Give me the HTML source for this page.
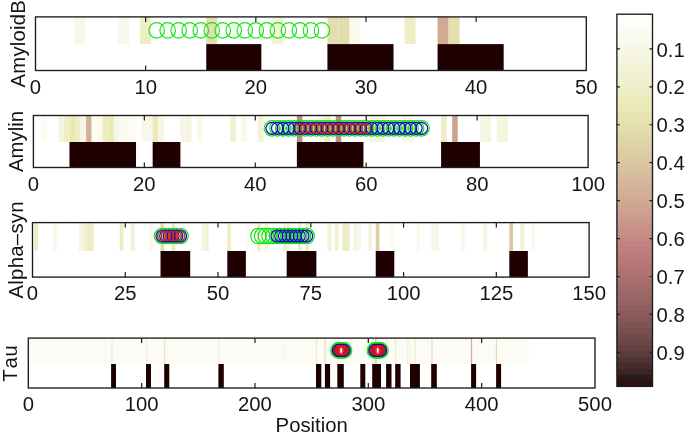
<!DOCTYPE html>
<html><head><meta charset="utf-8"><title>Figure</title>
<style>html,body{margin:0;padding:0;background:#fff;overflow:hidden}svg{display:block}</style></head>
<body>
<svg width="685" height="437" viewBox="0 0 685 437">
<rect width="685" height="437" fill="#fff"/>
<g>
<rect x="41.01" y="16.90" width="462.67" height="27.20" fill="#ffffff"/>
<rect x="74.06" y="16.90" width="11.02" height="27.20" fill="#f8f8ea"/>
<rect x="118.12" y="16.90" width="11.02" height="27.20" fill="#f8f8ea"/>
<rect x="140.15" y="16.90" width="11.02" height="27.20" fill="#ededc6"/>
<rect x="206.25" y="16.90" width="11.02" height="27.20" fill="#e4deae"/>
<rect x="272.34" y="16.90" width="11.02" height="27.20" fill="#f2f2d5"/>
<rect x="327.42" y="16.90" width="11.02" height="27.20" fill="#e4deae"/>
<rect x="338.44" y="16.90" width="11.02" height="27.20" fill="#e4deae"/>
<rect x="349.46" y="16.90" width="11.02" height="27.20" fill="#f9f9ec"/>
<rect x="404.54" y="16.90" width="11.02" height="27.20" fill="#ededc6"/>
<rect x="437.58" y="16.90" width="11.02" height="27.20" fill="#d0aa93"/>
<rect x="448.60" y="16.90" width="11.02" height="27.20" fill="#e4deae"/>
<rect x="206.25" y="44.10" width="55.08" height="26.40" fill="#1e0000"/>
<rect x="327.42" y="44.10" width="66.10" height="26.40" fill="#1e0000"/>
<rect x="437.58" y="44.10" width="66.10" height="26.40" fill="#1e0000"/>
<circle cx="156.68" cy="30.40" r="7.75" fill="none" stroke="#14e414" stroke-width="1.15"/>
<circle cx="167.69" cy="30.40" r="7.75" fill="none" stroke="#14e414" stroke-width="1.15"/>
<circle cx="178.71" cy="30.40" r="7.75" fill="none" stroke="#14e414" stroke-width="1.15"/>
<circle cx="189.72" cy="30.40" r="7.75" fill="none" stroke="#14e414" stroke-width="1.15"/>
<circle cx="200.74" cy="30.40" r="7.75" fill="none" stroke="#14e414" stroke-width="1.15"/>
<circle cx="211.76" cy="30.40" r="7.75" fill="none" stroke="#14e414" stroke-width="1.15"/>
<circle cx="222.77" cy="30.40" r="7.75" fill="none" stroke="#14e414" stroke-width="1.15"/>
<circle cx="233.79" cy="30.40" r="7.75" fill="none" stroke="#14e414" stroke-width="1.15"/>
<circle cx="244.80" cy="30.40" r="7.75" fill="none" stroke="#14e414" stroke-width="1.15"/>
<circle cx="255.82" cy="30.40" r="7.75" fill="none" stroke="#14e414" stroke-width="1.15"/>
<circle cx="266.84" cy="30.40" r="7.75" fill="none" stroke="#14e414" stroke-width="1.15"/>
<circle cx="277.85" cy="30.40" r="7.75" fill="none" stroke="#14e414" stroke-width="1.15"/>
<circle cx="288.87" cy="30.40" r="7.75" fill="none" stroke="#14e414" stroke-width="1.15"/>
<circle cx="299.88" cy="30.40" r="7.75" fill="none" stroke="#14e414" stroke-width="1.15"/>
<circle cx="310.90" cy="30.40" r="7.75" fill="none" stroke="#14e414" stroke-width="1.15"/>
<circle cx="321.92" cy="30.40" r="7.75" fill="none" stroke="#14e414" stroke-width="1.15"/>
<text x="35.50" y="93.70" text-anchor="middle" font-family="Liberation Sans, Arial, Helvetica, sans-serif" font-size="20.3" fill="#151515" style="font-kerning:none">0</text>
<path d="M145.66 16.90v5" stroke="#1c1c1c" stroke-width="1.2" fill="none"/>
<path d="M145.66 70.50v-5" stroke="#1c1c1c" stroke-width="1.2" fill="none"/>
<text x="145.66" y="93.70" text-anchor="middle" font-family="Liberation Sans, Arial, Helvetica, sans-serif" font-size="20.3" fill="#151515" style="font-kerning:none">10</text>
<path d="M255.82 16.90v5" stroke="#1c1c1c" stroke-width="1.2" fill="none"/>
<text x="255.82" y="93.70" text-anchor="middle" font-family="Liberation Sans, Arial, Helvetica, sans-serif" font-size="20.3" fill="#151515" style="font-kerning:none">20</text>
<path d="M365.98 16.90v5" stroke="#1c1c1c" stroke-width="1.2" fill="none"/>
<text x="365.98" y="93.70" text-anchor="middle" font-family="Liberation Sans, Arial, Helvetica, sans-serif" font-size="20.3" fill="#151515" style="font-kerning:none">30</text>
<path d="M476.14 16.90v5" stroke="#1c1c1c" stroke-width="1.2" fill="none"/>
<text x="476.14" y="93.70" text-anchor="middle" font-family="Liberation Sans, Arial, Helvetica, sans-serif" font-size="20.3" fill="#151515" style="font-kerning:none">40</text>
<text x="586.30" y="93.70" text-anchor="middle" font-family="Liberation Sans, Arial, Helvetica, sans-serif" font-size="20.3" fill="#151515" style="font-kerning:none">50</text>
<rect x="35.50" y="16.90" width="550.80" height="53.60" fill="none" stroke="#1c1c1c" stroke-width="1.35"/>
<text transform="translate(24.50 43.70) rotate(-90)" text-anchor="middle" letter-spacing="0.25" font-family="Liberation Sans, Arial, Helvetica, sans-serif" font-size="20.3" fill="#151515" style="font-kerning:none">AmyloidB</text>
</g>
<g>
<rect x="36.17" y="115.50" width="493.68" height="26.50" fill="#ffffff"/>
<rect x="41.72" y="115.50" width="5.55" height="26.50" fill="#fbfbf2"/>
<rect x="58.36" y="115.50" width="5.55" height="26.50" fill="#f5f5de"/>
<rect x="63.91" y="115.50" width="5.55" height="26.50" fill="#ededc6"/>
<rect x="69.46" y="115.50" width="5.55" height="26.50" fill="#e9e9b4"/>
<rect x="75.00" y="115.50" width="5.55" height="26.50" fill="#ededc6"/>
<rect x="80.55" y="115.50" width="5.55" height="26.50" fill="#f6f6e4"/>
<rect x="86.10" y="115.50" width="5.55" height="26.50" fill="#d2b096"/>
<rect x="91.64" y="115.50" width="5.55" height="26.50" fill="#fcfcf7"/>
<rect x="97.19" y="115.50" width="5.55" height="26.50" fill="#f9f9ec"/>
<rect x="102.74" y="115.50" width="5.55" height="26.50" fill="#ececbf"/>
<rect x="108.28" y="115.50" width="5.55" height="26.50" fill="#e9e9b4"/>
<rect x="113.83" y="115.50" width="5.55" height="26.50" fill="#f6f6e4"/>
<rect x="119.38" y="115.50" width="5.55" height="26.50" fill="#fbfbf2"/>
<rect x="124.93" y="115.50" width="5.55" height="26.50" fill="#fbfbf2"/>
<rect x="130.47" y="115.50" width="5.55" height="26.50" fill="#fbfbf2"/>
<rect x="141.57" y="115.50" width="5.55" height="26.50" fill="#f8f8ea"/>
<rect x="147.11" y="115.50" width="5.55" height="26.50" fill="#f8f8ea"/>
<rect x="152.66" y="115.50" width="5.55" height="26.50" fill="#eaeab8"/>
<rect x="158.21" y="115.50" width="5.55" height="26.50" fill="#f6f6e4"/>
<rect x="180.40" y="115.50" width="5.55" height="26.50" fill="#f6f6e4"/>
<rect x="185.94" y="115.50" width="5.55" height="26.50" fill="#f5f5de"/>
<rect x="197.04" y="115.50" width="5.55" height="26.50" fill="#f9f9ec"/>
<rect x="230.32" y="115.50" width="5.55" height="26.50" fill="#f0f0cf"/>
<rect x="241.41" y="115.50" width="5.55" height="26.50" fill="#f9f9ec"/>
<rect x="258.05" y="115.50" width="5.55" height="26.50" fill="#f2f2d5"/>
<rect x="296.88" y="115.50" width="5.55" height="26.50" fill="#c68984"/>
<rect x="319.07" y="115.50" width="5.55" height="26.50" fill="#f6f6e4"/>
<rect x="324.62" y="115.50" width="5.55" height="26.50" fill="#ededc6"/>
<rect x="335.71" y="115.50" width="5.55" height="26.50" fill="#c68984"/>
<rect x="368.99" y="115.50" width="5.55" height="26.50" fill="#f6f6e4"/>
<rect x="374.54" y="115.50" width="5.55" height="26.50" fill="#f5f5de"/>
<rect x="380.09" y="115.50" width="5.55" height="26.50" fill="#f6f6e4"/>
<rect x="402.28" y="115.50" width="5.55" height="26.50" fill="#f6f6e4"/>
<rect x="407.82" y="115.50" width="5.55" height="26.50" fill="#f8f8ea"/>
<rect x="441.10" y="115.50" width="5.55" height="26.50" fill="#ededc6"/>
<rect x="452.20" y="115.50" width="5.55" height="26.50" fill="#cea490"/>
<rect x="479.93" y="115.50" width="5.55" height="26.50" fill="#f6f6e4"/>
<rect x="485.48" y="115.50" width="5.55" height="26.50" fill="#f5f5de"/>
<rect x="496.57" y="115.50" width="5.55" height="26.50" fill="#f5f5de"/>
<rect x="502.12" y="115.50" width="5.55" height="26.50" fill="#f5f5de"/>
<rect x="69.46" y="142.00" width="66.56" height="25.50" fill="#1e0000"/>
<rect x="152.66" y="142.00" width="27.74" height="25.50" fill="#1e0000"/>
<rect x="296.88" y="142.00" width="66.56" height="25.50" fill="#1e0000"/>
<rect x="441.10" y="142.00" width="38.83" height="25.50" fill="#1e0000"/>
<circle cx="271.92" cy="128.30" r="7.75" fill="none" stroke="#14e414" stroke-width="1.15"/>
<circle cx="277.47" cy="128.30" r="7.75" fill="none" stroke="#14e414" stroke-width="1.15"/>
<circle cx="283.02" cy="128.30" r="7.75" fill="none" stroke="#14e414" stroke-width="1.15"/>
<circle cx="288.56" cy="128.30" r="7.75" fill="none" stroke="#14e414" stroke-width="1.15"/>
<circle cx="294.11" cy="128.30" r="7.75" fill="none" stroke="#14e414" stroke-width="1.15"/>
<circle cx="299.66" cy="128.30" r="7.75" fill="none" stroke="#14e414" stroke-width="1.15"/>
<circle cx="305.20" cy="128.30" r="7.75" fill="none" stroke="#14e414" stroke-width="1.15"/>
<circle cx="310.75" cy="128.30" r="7.75" fill="none" stroke="#14e414" stroke-width="1.15"/>
<circle cx="316.30" cy="128.30" r="7.75" fill="none" stroke="#14e414" stroke-width="1.15"/>
<circle cx="321.84" cy="128.30" r="7.75" fill="none" stroke="#14e414" stroke-width="1.15"/>
<circle cx="327.39" cy="128.30" r="7.75" fill="none" stroke="#14e414" stroke-width="1.15"/>
<circle cx="332.94" cy="128.30" r="7.75" fill="none" stroke="#14e414" stroke-width="1.15"/>
<circle cx="338.49" cy="128.30" r="7.75" fill="none" stroke="#14e414" stroke-width="1.15"/>
<circle cx="344.03" cy="128.30" r="7.75" fill="none" stroke="#14e414" stroke-width="1.15"/>
<circle cx="349.58" cy="128.30" r="7.75" fill="none" stroke="#14e414" stroke-width="1.15"/>
<circle cx="355.13" cy="128.30" r="7.75" fill="none" stroke="#14e414" stroke-width="1.15"/>
<circle cx="360.67" cy="128.30" r="7.75" fill="none" stroke="#14e414" stroke-width="1.15"/>
<circle cx="366.22" cy="128.30" r="7.75" fill="none" stroke="#14e414" stroke-width="1.15"/>
<circle cx="371.77" cy="128.30" r="7.75" fill="none" stroke="#14e414" stroke-width="1.15"/>
<circle cx="377.31" cy="128.30" r="7.75" fill="none" stroke="#14e414" stroke-width="1.15"/>
<circle cx="382.86" cy="128.30" r="7.75" fill="none" stroke="#14e414" stroke-width="1.15"/>
<circle cx="388.41" cy="128.30" r="7.75" fill="none" stroke="#14e414" stroke-width="1.15"/>
<circle cx="393.96" cy="128.30" r="7.75" fill="none" stroke="#14e414" stroke-width="1.15"/>
<circle cx="399.50" cy="128.30" r="7.75" fill="none" stroke="#14e414" stroke-width="1.15"/>
<circle cx="405.05" cy="128.30" r="7.75" fill="none" stroke="#14e414" stroke-width="1.15"/>
<circle cx="410.60" cy="128.30" r="7.75" fill="none" stroke="#14e414" stroke-width="1.15"/>
<circle cx="416.14" cy="128.30" r="7.75" fill="none" stroke="#14e414" stroke-width="1.15"/>
<circle cx="421.69" cy="128.30" r="7.75" fill="none" stroke="#14e414" stroke-width="1.15"/>
<circle cx="271.92" cy="128.30" r="6.0" fill="none" stroke="#0c0cb8" stroke-width="1.2"/>
<circle cx="277.47" cy="128.30" r="6.0" fill="none" stroke="#0c0cb8" stroke-width="1.2"/>
<circle cx="283.02" cy="128.30" r="6.0" fill="none" stroke="#0c0cb8" stroke-width="1.2"/>
<circle cx="288.56" cy="128.30" r="6.0" fill="none" stroke="#0c0cb8" stroke-width="1.2"/>
<circle cx="294.11" cy="128.30" r="6.0" fill="none" stroke="#0c0cb8" stroke-width="1.2"/>
<circle cx="299.66" cy="128.30" r="6.0" fill="none" stroke="#0c0cb8" stroke-width="1.2"/>
<circle cx="305.20" cy="128.30" r="6.0" fill="none" stroke="#0c0cb8" stroke-width="1.2"/>
<circle cx="310.75" cy="128.30" r="6.0" fill="none" stroke="#0c0cb8" stroke-width="1.2"/>
<circle cx="316.30" cy="128.30" r="6.0" fill="none" stroke="#0c0cb8" stroke-width="1.2"/>
<circle cx="321.84" cy="128.30" r="6.0" fill="none" stroke="#0c0cb8" stroke-width="1.2"/>
<circle cx="327.39" cy="128.30" r="6.0" fill="none" stroke="#0c0cb8" stroke-width="1.2"/>
<circle cx="332.94" cy="128.30" r="6.0" fill="none" stroke="#0c0cb8" stroke-width="1.2"/>
<circle cx="338.49" cy="128.30" r="6.0" fill="none" stroke="#0c0cb8" stroke-width="1.2"/>
<circle cx="344.03" cy="128.30" r="6.0" fill="none" stroke="#0c0cb8" stroke-width="1.2"/>
<circle cx="349.58" cy="128.30" r="6.0" fill="none" stroke="#0c0cb8" stroke-width="1.2"/>
<circle cx="355.13" cy="128.30" r="6.0" fill="none" stroke="#0c0cb8" stroke-width="1.2"/>
<circle cx="360.67" cy="128.30" r="6.0" fill="none" stroke="#0c0cb8" stroke-width="1.2"/>
<circle cx="366.22" cy="128.30" r="6.0" fill="none" stroke="#0c0cb8" stroke-width="1.2"/>
<circle cx="371.77" cy="128.30" r="6.0" fill="none" stroke="#0c0cb8" stroke-width="1.2"/>
<circle cx="377.31" cy="128.30" r="6.0" fill="none" stroke="#0c0cb8" stroke-width="1.2"/>
<circle cx="382.86" cy="128.30" r="6.0" fill="none" stroke="#0c0cb8" stroke-width="1.2"/>
<circle cx="388.41" cy="128.30" r="6.0" fill="none" stroke="#0c0cb8" stroke-width="1.2"/>
<circle cx="393.96" cy="128.30" r="6.0" fill="none" stroke="#0c0cb8" stroke-width="1.2"/>
<circle cx="399.50" cy="128.30" r="6.0" fill="none" stroke="#0c0cb8" stroke-width="1.2"/>
<circle cx="405.05" cy="128.30" r="6.0" fill="none" stroke="#0c0cb8" stroke-width="1.2"/>
<circle cx="410.60" cy="128.30" r="6.0" fill="none" stroke="#0c0cb8" stroke-width="1.2"/>
<circle cx="416.14" cy="128.30" r="6.0" fill="none" stroke="#0c0cb8" stroke-width="1.2"/>
<circle cx="421.69" cy="128.30" r="6.0" fill="none" stroke="#0c0cb8" stroke-width="1.2"/>
<circle cx="299.66" cy="128.30" r="4.5" fill="none" stroke="#ea1212" stroke-width="1.15"/>
<circle cx="305.20" cy="128.30" r="4.5" fill="none" stroke="#ea1212" stroke-width="1.15"/>
<circle cx="310.75" cy="128.30" r="4.5" fill="none" stroke="#ea1212" stroke-width="1.15"/>
<circle cx="316.30" cy="128.30" r="4.5" fill="none" stroke="#ea1212" stroke-width="1.15"/>
<circle cx="321.84" cy="128.30" r="4.5" fill="none" stroke="#ea1212" stroke-width="1.15"/>
<circle cx="327.39" cy="128.30" r="4.5" fill="none" stroke="#ea1212" stroke-width="1.15"/>
<circle cx="332.94" cy="128.30" r="4.5" fill="none" stroke="#ea1212" stroke-width="1.15"/>
<circle cx="338.49" cy="128.30" r="4.5" fill="none" stroke="#ea1212" stroke-width="1.15"/>
<circle cx="344.03" cy="128.30" r="4.5" fill="none" stroke="#ea1212" stroke-width="1.15"/>
<circle cx="349.58" cy="128.30" r="4.5" fill="none" stroke="#ea1212" stroke-width="1.15"/>
<circle cx="355.13" cy="128.30" r="4.5" fill="none" stroke="#ea1212" stroke-width="1.15"/>
<circle cx="360.67" cy="128.30" r="4.5" fill="none" stroke="#ea1212" stroke-width="1.15"/>
<circle cx="366.22" cy="128.30" r="4.5" fill="none" stroke="#ea1212" stroke-width="1.15"/>
<text x="33.40" y="190.70" text-anchor="middle" font-family="Liberation Sans, Arial, Helvetica, sans-serif" font-size="20.3" fill="#151515" style="font-kerning:none">0</text>
<path d="M144.34 115.50v5" stroke="#1c1c1c" stroke-width="1.2" fill="none"/>
<path d="M144.34 167.50v-5" stroke="#1c1c1c" stroke-width="1.2" fill="none"/>
<text x="144.34" y="190.70" text-anchor="middle" font-family="Liberation Sans, Arial, Helvetica, sans-serif" font-size="20.3" fill="#151515" style="font-kerning:none">20</text>
<path d="M255.28 115.50v5" stroke="#1c1c1c" stroke-width="1.2" fill="none"/>
<path d="M255.28 167.50v-5" stroke="#1c1c1c" stroke-width="1.2" fill="none"/>
<text x="255.28" y="190.70" text-anchor="middle" font-family="Liberation Sans, Arial, Helvetica, sans-serif" font-size="20.3" fill="#151515" style="font-kerning:none">40</text>
<path d="M366.22 115.50v5" stroke="#1c1c1c" stroke-width="1.2" fill="none"/>
<path d="M366.22 167.50v-5" stroke="#1c1c1c" stroke-width="1.2" fill="none"/>
<text x="366.22" y="190.70" text-anchor="middle" font-family="Liberation Sans, Arial, Helvetica, sans-serif" font-size="20.3" fill="#151515" style="font-kerning:none">60</text>
<path d="M477.16 115.50v5" stroke="#1c1c1c" stroke-width="1.2" fill="none"/>
<text x="477.16" y="190.70" text-anchor="middle" font-family="Liberation Sans, Arial, Helvetica, sans-serif" font-size="20.3" fill="#151515" style="font-kerning:none">80</text>
<text x="588.10" y="190.70" text-anchor="middle" font-family="Liberation Sans, Arial, Helvetica, sans-serif" font-size="20.3" fill="#151515" style="font-kerning:none">100</text>
<rect x="33.40" y="115.50" width="554.70" height="52.00" fill="none" stroke="#1c1c1c" stroke-width="1.35"/>
<text transform="translate(22.60 141.50) rotate(-90)" text-anchor="middle" letter-spacing="0" font-family="Liberation Sans, Arial, Helvetica, sans-serif" font-size="20.3" fill="#151515" style="font-kerning:none">Amylin</text>
</g>
<g>
<rect x="34.36" y="222.60" width="519.49" height="28.40" fill="#ffffff"/>
<rect x="34.36" y="222.60" width="3.71" height="28.40" fill="#ededc6"/>
<rect x="52.91" y="222.60" width="3.71" height="28.40" fill="#f8f8ea"/>
<rect x="78.88" y="222.60" width="3.71" height="28.40" fill="#f5f5de"/>
<rect x="82.59" y="222.60" width="3.71" height="28.40" fill="#f2f2d5"/>
<rect x="86.30" y="222.60" width="3.71" height="28.40" fill="#ededc6"/>
<rect x="90.02" y="222.60" width="3.71" height="28.40" fill="#ededc6"/>
<rect x="119.70" y="222.60" width="3.71" height="28.40" fill="#ececbf"/>
<rect x="130.83" y="222.60" width="3.71" height="28.40" fill="#f2f2d5"/>
<rect x="149.39" y="222.60" width="3.71" height="28.40" fill="#f8f8ea"/>
<rect x="160.52" y="222.60" width="3.71" height="28.40" fill="#e4deae"/>
<rect x="171.65" y="222.60" width="3.71" height="28.40" fill="#ececbf"/>
<rect x="201.34" y="222.60" width="3.71" height="28.40" fill="#f5f5de"/>
<rect x="205.05" y="222.60" width="3.71" height="28.40" fill="#f2f2d5"/>
<rect x="227.31" y="222.60" width="3.71" height="28.40" fill="#ededc6"/>
<rect x="245.86" y="222.60" width="3.71" height="28.40" fill="#fafaef"/>
<rect x="257.00" y="222.60" width="3.71" height="28.40" fill="#ededc6"/>
<rect x="264.42" y="222.60" width="3.71" height="28.40" fill="#f5f5de"/>
<rect x="282.97" y="222.60" width="3.71" height="28.40" fill="#f2f2d5"/>
<rect x="286.68" y="222.60" width="3.71" height="28.40" fill="#f2f2d5"/>
<rect x="297.81" y="222.60" width="3.71" height="28.40" fill="#ededc6"/>
<rect x="305.23" y="222.60" width="3.71" height="28.40" fill="#ededc6"/>
<rect x="327.50" y="222.60" width="3.71" height="28.40" fill="#f2f2d5"/>
<rect x="334.92" y="222.60" width="3.71" height="28.40" fill="#f2f2d5"/>
<rect x="342.34" y="222.60" width="3.71" height="28.40" fill="#ededc6"/>
<rect x="346.05" y="222.60" width="3.71" height="28.40" fill="#ededc6"/>
<rect x="353.47" y="222.60" width="3.71" height="28.40" fill="#f6f6e4"/>
<rect x="357.18" y="222.60" width="3.71" height="28.40" fill="#f8f8ea"/>
<rect x="368.32" y="222.60" width="3.71" height="28.40" fill="#f5f5de"/>
<rect x="375.74" y="222.60" width="3.71" height="28.40" fill="#ded0a7"/>
<rect x="390.58" y="222.60" width="3.71" height="28.40" fill="#fafaef"/>
<rect x="416.55" y="222.60" width="3.71" height="28.40" fill="#fafaef"/>
<rect x="431.40" y="222.60" width="3.71" height="28.40" fill="#f8f8ea"/>
<rect x="435.11" y="222.60" width="3.71" height="28.40" fill="#f8f8ea"/>
<rect x="461.08" y="222.60" width="3.71" height="28.40" fill="#f8f8ea"/>
<rect x="483.35" y="222.60" width="3.71" height="28.40" fill="#f6f6e4"/>
<rect x="509.32" y="222.60" width="3.71" height="28.40" fill="#dac6a1"/>
<rect x="520.45" y="222.60" width="3.71" height="28.40" fill="#f2f2d5"/>
<rect x="531.58" y="222.60" width="3.71" height="28.40" fill="#fafaef"/>
<rect x="160.52" y="251.00" width="29.69" height="26.10" fill="#1e0000"/>
<rect x="227.31" y="251.00" width="18.55" height="26.10" fill="#1e0000"/>
<rect x="286.68" y="251.00" width="29.69" height="26.10" fill="#1e0000"/>
<rect x="375.74" y="251.00" width="18.55" height="26.10" fill="#1e0000"/>
<rect x="509.32" y="251.00" width="18.55" height="26.10" fill="#1e0000"/>
<circle cx="161.97" cy="236.00" r="7.75" fill="none" stroke="#14e414" stroke-width="1.15"/>
<circle cx="165.68" cy="236.00" r="7.75" fill="none" stroke="#14e414" stroke-width="1.15"/>
<circle cx="169.39" cy="236.00" r="7.75" fill="none" stroke="#14e414" stroke-width="1.15"/>
<circle cx="173.11" cy="236.00" r="7.75" fill="none" stroke="#14e414" stroke-width="1.15"/>
<circle cx="176.82" cy="236.00" r="7.75" fill="none" stroke="#14e414" stroke-width="1.15"/>
<circle cx="180.53" cy="236.00" r="7.75" fill="none" stroke="#14e414" stroke-width="1.15"/>
<circle cx="258.45" cy="236.00" r="7.75" fill="none" stroke="#14e414" stroke-width="1.15"/>
<circle cx="262.16" cy="236.00" r="7.75" fill="none" stroke="#14e414" stroke-width="1.15"/>
<circle cx="265.87" cy="236.00" r="7.75" fill="none" stroke="#14e414" stroke-width="1.15"/>
<circle cx="269.58" cy="236.00" r="7.75" fill="none" stroke="#14e414" stroke-width="1.15"/>
<circle cx="273.29" cy="236.00" r="7.75" fill="none" stroke="#14e414" stroke-width="1.15"/>
<circle cx="277.00" cy="236.00" r="7.75" fill="none" stroke="#14e414" stroke-width="1.15"/>
<circle cx="280.71" cy="236.00" r="7.75" fill="none" stroke="#14e414" stroke-width="1.15"/>
<circle cx="284.43" cy="236.00" r="7.75" fill="none" stroke="#14e414" stroke-width="1.15"/>
<circle cx="288.14" cy="236.00" r="7.75" fill="none" stroke="#14e414" stroke-width="1.15"/>
<circle cx="291.85" cy="236.00" r="7.75" fill="none" stroke="#14e414" stroke-width="1.15"/>
<circle cx="295.56" cy="236.00" r="7.75" fill="none" stroke="#14e414" stroke-width="1.15"/>
<circle cx="299.27" cy="236.00" r="7.75" fill="none" stroke="#14e414" stroke-width="1.15"/>
<circle cx="302.98" cy="236.00" r="7.75" fill="none" stroke="#14e414" stroke-width="1.15"/>
<circle cx="306.69" cy="236.00" r="7.75" fill="none" stroke="#14e414" stroke-width="1.15"/>
<circle cx="161.97" cy="236.00" r="6.0" fill="none" stroke="#0c0cb8" stroke-width="1.2"/>
<circle cx="165.68" cy="236.00" r="6.0" fill="none" stroke="#0c0cb8" stroke-width="1.2"/>
<circle cx="169.39" cy="236.00" r="6.0" fill="none" stroke="#0c0cb8" stroke-width="1.2"/>
<circle cx="173.11" cy="236.00" r="6.0" fill="none" stroke="#0c0cb8" stroke-width="1.2"/>
<circle cx="176.82" cy="236.00" r="6.0" fill="none" stroke="#0c0cb8" stroke-width="1.2"/>
<circle cx="180.53" cy="236.00" r="6.0" fill="none" stroke="#0c0cb8" stroke-width="1.2"/>
<circle cx="277.00" cy="236.00" r="6.0" fill="none" stroke="#0c0cb8" stroke-width="1.2"/>
<circle cx="280.71" cy="236.00" r="6.0" fill="none" stroke="#0c0cb8" stroke-width="1.2"/>
<circle cx="284.43" cy="236.00" r="6.0" fill="none" stroke="#0c0cb8" stroke-width="1.2"/>
<circle cx="288.14" cy="236.00" r="6.0" fill="none" stroke="#0c0cb8" stroke-width="1.2"/>
<circle cx="291.85" cy="236.00" r="6.0" fill="none" stroke="#0c0cb8" stroke-width="1.2"/>
<circle cx="295.56" cy="236.00" r="6.0" fill="none" stroke="#0c0cb8" stroke-width="1.2"/>
<circle cx="299.27" cy="236.00" r="6.0" fill="none" stroke="#0c0cb8" stroke-width="1.2"/>
<circle cx="302.98" cy="236.00" r="6.0" fill="none" stroke="#0c0cb8" stroke-width="1.2"/>
<circle cx="306.69" cy="236.00" r="6.0" fill="none" stroke="#0c0cb8" stroke-width="1.2"/>
<circle cx="161.97" cy="236.00" r="4.5" fill="none" stroke="#ea1212" stroke-width="1.15"/>
<circle cx="165.68" cy="236.00" r="4.5" fill="none" stroke="#ea1212" stroke-width="1.15"/>
<circle cx="169.39" cy="236.00" r="4.5" fill="none" stroke="#ea1212" stroke-width="1.15"/>
<circle cx="173.11" cy="236.00" r="4.5" fill="none" stroke="#ea1212" stroke-width="1.15"/>
<circle cx="176.82" cy="236.00" r="4.5" fill="none" stroke="#ea1212" stroke-width="1.15"/>
<circle cx="180.53" cy="236.00" r="4.5" fill="none" stroke="#ea1212" stroke-width="1.15"/>
<text x="32.50" y="300.30" text-anchor="middle" font-family="Liberation Sans, Arial, Helvetica, sans-serif" font-size="20.3" fill="#151515" style="font-kerning:none">0</text>
<path d="M125.27 222.60v5" stroke="#1c1c1c" stroke-width="1.2" fill="none"/>
<path d="M125.27 277.10v-5" stroke="#1c1c1c" stroke-width="1.2" fill="none"/>
<text x="125.27" y="300.30" text-anchor="middle" font-family="Liberation Sans, Arial, Helvetica, sans-serif" font-size="20.3" fill="#151515" style="font-kerning:none">25</text>
<path d="M218.03 222.60v5" stroke="#1c1c1c" stroke-width="1.2" fill="none"/>
<path d="M218.03 277.10v-5" stroke="#1c1c1c" stroke-width="1.2" fill="none"/>
<text x="218.03" y="300.30" text-anchor="middle" font-family="Liberation Sans, Arial, Helvetica, sans-serif" font-size="20.3" fill="#151515" style="font-kerning:none">50</text>
<path d="M310.80 222.60v5" stroke="#1c1c1c" stroke-width="1.2" fill="none"/>
<text x="310.80" y="300.30" text-anchor="middle" font-family="Liberation Sans, Arial, Helvetica, sans-serif" font-size="20.3" fill="#151515" style="font-kerning:none">75</text>
<path d="M403.57 222.60v5" stroke="#1c1c1c" stroke-width="1.2" fill="none"/>
<path d="M403.57 277.10v-5" stroke="#1c1c1c" stroke-width="1.2" fill="none"/>
<text x="403.57" y="300.30" text-anchor="middle" font-family="Liberation Sans, Arial, Helvetica, sans-serif" font-size="20.3" fill="#151515" style="font-kerning:none">100</text>
<path d="M496.33 222.60v5" stroke="#1c1c1c" stroke-width="1.2" fill="none"/>
<path d="M496.33 277.10v-5" stroke="#1c1c1c" stroke-width="1.2" fill="none"/>
<text x="496.33" y="300.30" text-anchor="middle" font-family="Liberation Sans, Arial, Helvetica, sans-serif" font-size="20.3" fill="#151515" style="font-kerning:none">125</text>
<text x="589.10" y="300.30" text-anchor="middle" font-family="Liberation Sans, Arial, Helvetica, sans-serif" font-size="20.3" fill="#151515" style="font-kerning:none">150</text>
<rect x="32.50" y="222.60" width="556.60" height="54.50" fill="none" stroke="#1c1c1c" stroke-width="1.35"/>
<text transform="translate(23.10 249.85) rotate(-90)" text-anchor="middle" letter-spacing="0.3" font-family="Liberation Sans, Arial, Helvetica, sans-serif" font-size="20.3" fill="#151515" style="font-kerning:none">Alpha–syn</text>
</g>
<g>
<rect x="28.87" y="338.10" width="499.83" height="25.90" fill="#fcfcf7"/>
<rect x="36.30" y="338.10" width="1.2" height="25.90" fill="#f9f9ec"/>
<rect x="46.20" y="338.10" width="1.2" height="25.90" fill="#f9f9ec"/>
<rect x="57.10" y="338.10" width="1.2" height="25.90" fill="#f9f9ec"/>
<rect x="70.40" y="338.10" width="1.2" height="25.90" fill="#f9f9ec"/>
<rect x="75.00" y="338.10" width="1.2" height="25.90" fill="#f9f9ec"/>
<rect x="90.40" y="338.10" width="1.2" height="25.90" fill="#f9f9ec"/>
<rect x="97.60" y="338.10" width="1.2" height="25.90" fill="#f9f9ec"/>
<rect x="104.60" y="338.10" width="1.2" height="25.90" fill="#f8f8ea"/>
<rect x="111.40" y="338.10" width="1.2" height="25.90" fill="#ededc6"/>
<rect x="120.30" y="338.10" width="1.2" height="25.90" fill="#f9f9ec"/>
<rect x="133.60" y="338.10" width="1.2" height="25.90" fill="#f8f8ea"/>
<rect x="145.90" y="338.10" width="1.2" height="25.90" fill="#f2f2d5"/>
<rect x="152.40" y="338.10" width="1.2" height="25.90" fill="#fafaef"/>
<rect x="158.40" y="338.10" width="1.2" height="25.90" fill="#fafaef"/>
<rect x="164.00" y="338.10" width="1.2" height="25.90" fill="#e9e9b4"/>
<rect x="173.40" y="338.10" width="1.2" height="25.90" fill="#fafaef"/>
<rect x="178.40" y="338.10" width="1.2" height="25.90" fill="#fafaef"/>
<rect x="189.40" y="338.10" width="1.2" height="25.90" fill="#fbfbf2"/>
<rect x="196.40" y="338.10" width="1.2" height="25.90" fill="#fbfbf2"/>
<rect x="204.40" y="338.10" width="1.2" height="25.90" fill="#fbfbf2"/>
<rect x="218.20" y="338.10" width="1.2" height="25.90" fill="#efefcc"/>
<rect x="237.40" y="338.10" width="1.2" height="25.90" fill="#f9f9ec"/>
<rect x="245.40" y="338.10" width="1.2" height="25.90" fill="#fbfbf2"/>
<rect x="259.40" y="338.10" width="1.2" height="25.90" fill="#fbfbf2"/>
<rect x="264.40" y="338.10" width="1.2" height="25.90" fill="#fafaef"/>
<rect x="271.40" y="338.10" width="1.2" height="25.90" fill="#fafaef"/>
<rect x="282.40" y="338.10" width="1.2" height="25.90" fill="#f6f6e4"/>
<rect x="289.40" y="338.10" width="1.2" height="25.90" fill="#fafaef"/>
<rect x="296.40" y="338.10" width="1.2" height="25.90" fill="#fafaef"/>
<rect x="304.40" y="338.10" width="1.2" height="25.90" fill="#fafaef"/>
<rect x="310.40" y="338.10" width="1.2" height="25.90" fill="#fafaef"/>
<rect x="315.90" y="338.10" width="1.2" height="25.90" fill="#ededc6"/>
<rect x="324.60" y="338.10" width="1.2" height="25.90" fill="#e4deae"/>
<rect x="337.60" y="338.10" width="1.2" height="25.90" fill="#ededc6"/>
<rect x="350.80" y="338.10" width="1.2" height="25.90" fill="#f8f8ea"/>
<rect x="357.40" y="338.10" width="1.2" height="25.90" fill="#fafaef"/>
<rect x="372.20" y="338.10" width="1.2" height="25.90" fill="#e9e9b4"/>
<rect x="375.30" y="338.10" width="1.2" height="25.90" fill="#d5b89a"/>
<rect x="386.10" y="338.10" width="1.2" height="25.90" fill="#f5f5de"/>
<rect x="394.90" y="338.10" width="1.2" height="25.90" fill="#ededc6"/>
<rect x="406.90" y="338.10" width="1.2" height="25.90" fill="#f5f5de"/>
<rect x="408.90" y="338.10" width="1.2" height="25.90" fill="#f5f5de"/>
<rect x="414.40" y="338.10" width="1.2" height="25.90" fill="#ededc6"/>
<rect x="422.40" y="338.10" width="1.2" height="25.90" fill="#f9f9ec"/>
<rect x="427.40" y="338.10" width="1.2" height="25.90" fill="#f9f9ec"/>
<rect x="431.40" y="338.10" width="1.2" height="25.90" fill="#e6e2b1"/>
<rect x="443.40" y="338.10" width="1.2" height="25.90" fill="#fafaef"/>
<rect x="449.40" y="338.10" width="1.2" height="25.90" fill="#fafaef"/>
<rect x="454.40" y="338.10" width="1.2" height="25.90" fill="#fafaef"/>
<rect x="461.40" y="338.10" width="1.2" height="25.90" fill="#fafaef"/>
<rect x="470.90" y="338.10" width="1.2" height="25.90" fill="#d0aa93"/>
<rect x="477.40" y="338.10" width="1.2" height="25.90" fill="#fafaef"/>
<rect x="484.40" y="338.10" width="1.2" height="25.90" fill="#fafaef"/>
<rect x="490.40" y="338.10" width="1.2" height="25.90" fill="#fafaef"/>
<rect x="495.80" y="338.10" width="1.2" height="25.90" fill="#e4deae"/>
<rect x="504.40" y="338.10" width="1.2" height="25.90" fill="#fafaef"/>
<rect x="509.40" y="338.10" width="1.2" height="25.90" fill="#fafaef"/>
<rect x="514.40" y="338.10" width="1.2" height="25.90" fill="#fafaef"/>
<rect x="519.40" y="338.10" width="1.2" height="25.90" fill="#fafaef"/>
<rect x="111.10" y="364.00" width="4.90" height="24.00" fill="#1e0000"/>
<rect x="146.00" y="364.00" width="5.00" height="24.00" fill="#1e0000"/>
<rect x="164.20" y="364.00" width="5.10" height="24.00" fill="#1e0000"/>
<rect x="218.40" y="364.00" width="5.40" height="24.00" fill="#1e0000"/>
<rect x="316.00" y="364.00" width="5.30" height="24.00" fill="#1e0000"/>
<rect x="324.90" y="364.00" width="5.20" height="24.00" fill="#1e0000"/>
<rect x="337.30" y="364.00" width="6.50" height="24.00" fill="#1e0000"/>
<rect x="360.30" y="364.00" width="5.00" height="24.00" fill="#1e0000"/>
<rect x="372.20" y="364.00" width="8.80" height="24.00" fill="#1e0000"/>
<rect x="386.10" y="364.00" width="5.40" height="24.00" fill="#1e0000"/>
<rect x="395.20" y="364.00" width="5.40" height="24.00" fill="#1e0000"/>
<rect x="410.00" y="364.00" width="9.90" height="24.00" fill="#1e0000"/>
<rect x="431.20" y="364.00" width="5.60" height="24.00" fill="#1e0000"/>
<rect x="471.10" y="364.00" width="5.00" height="24.00" fill="#1e0000"/>
<rect x="496.10" y="364.00" width="5.00" height="24.00" fill="#1e0000"/>
<circle cx="338.37" cy="350.40" r="7.75" fill="none" stroke="#14e414" stroke-width="1.15"/>
<circle cx="339.50" cy="350.40" r="7.75" fill="none" stroke="#14e414" stroke-width="1.15"/>
<circle cx="340.63" cy="350.40" r="7.75" fill="none" stroke="#14e414" stroke-width="1.15"/>
<circle cx="341.77" cy="350.40" r="7.75" fill="none" stroke="#14e414" stroke-width="1.15"/>
<circle cx="342.90" cy="350.40" r="7.75" fill="none" stroke="#14e414" stroke-width="1.15"/>
<circle cx="344.03" cy="350.40" r="7.75" fill="none" stroke="#14e414" stroke-width="1.15"/>
<circle cx="374.87" cy="350.40" r="7.75" fill="none" stroke="#14e414" stroke-width="1.15"/>
<circle cx="376.00" cy="350.40" r="7.75" fill="none" stroke="#14e414" stroke-width="1.15"/>
<circle cx="377.13" cy="350.40" r="7.75" fill="none" stroke="#14e414" stroke-width="1.15"/>
<circle cx="378.27" cy="350.40" r="7.75" fill="none" stroke="#14e414" stroke-width="1.15"/>
<circle cx="379.40" cy="350.40" r="7.75" fill="none" stroke="#14e414" stroke-width="1.15"/>
<circle cx="380.53" cy="350.40" r="7.75" fill="none" stroke="#14e414" stroke-width="1.15"/>
<circle cx="338.37" cy="350.40" r="6.0" fill="none" stroke="#0c0cb8" stroke-width="1.2"/>
<circle cx="339.50" cy="350.40" r="6.0" fill="none" stroke="#0c0cb8" stroke-width="1.2"/>
<circle cx="340.63" cy="350.40" r="6.0" fill="none" stroke="#0c0cb8" stroke-width="1.2"/>
<circle cx="341.77" cy="350.40" r="6.0" fill="none" stroke="#0c0cb8" stroke-width="1.2"/>
<circle cx="342.90" cy="350.40" r="6.0" fill="none" stroke="#0c0cb8" stroke-width="1.2"/>
<circle cx="344.03" cy="350.40" r="6.0" fill="none" stroke="#0c0cb8" stroke-width="1.2"/>
<circle cx="374.87" cy="350.40" r="6.0" fill="none" stroke="#0c0cb8" stroke-width="1.2"/>
<circle cx="376.00" cy="350.40" r="6.0" fill="none" stroke="#0c0cb8" stroke-width="1.2"/>
<circle cx="377.13" cy="350.40" r="6.0" fill="none" stroke="#0c0cb8" stroke-width="1.2"/>
<circle cx="378.27" cy="350.40" r="6.0" fill="none" stroke="#0c0cb8" stroke-width="1.2"/>
<circle cx="379.40" cy="350.40" r="6.0" fill="none" stroke="#0c0cb8" stroke-width="1.2"/>
<circle cx="380.53" cy="350.40" r="6.0" fill="none" stroke="#0c0cb8" stroke-width="1.2"/>
<circle cx="338.37" cy="350.40" r="4.5" fill="none" stroke="#ea1212" stroke-width="1.15"/>
<circle cx="339.50" cy="350.40" r="4.5" fill="none" stroke="#ea1212" stroke-width="1.15"/>
<circle cx="340.63" cy="350.40" r="4.5" fill="none" stroke="#ea1212" stroke-width="1.15"/>
<circle cx="341.77" cy="350.40" r="4.5" fill="none" stroke="#ea1212" stroke-width="1.15"/>
<circle cx="342.90" cy="350.40" r="4.5" fill="none" stroke="#ea1212" stroke-width="1.15"/>
<circle cx="344.03" cy="350.40" r="4.5" fill="none" stroke="#ea1212" stroke-width="1.15"/>
<circle cx="374.87" cy="350.40" r="4.5" fill="none" stroke="#ea1212" stroke-width="1.15"/>
<circle cx="376.00" cy="350.40" r="4.5" fill="none" stroke="#ea1212" stroke-width="1.15"/>
<circle cx="377.13" cy="350.40" r="4.5" fill="none" stroke="#ea1212" stroke-width="1.15"/>
<circle cx="378.27" cy="350.40" r="4.5" fill="none" stroke="#ea1212" stroke-width="1.15"/>
<circle cx="379.40" cy="350.40" r="4.5" fill="none" stroke="#ea1212" stroke-width="1.15"/>
<circle cx="380.53" cy="350.40" r="4.5" fill="none" stroke="#ea1212" stroke-width="1.15"/>
<text x="28.30" y="411.20" text-anchor="middle" font-family="Liberation Sans, Arial, Helvetica, sans-serif" font-size="20.3" fill="#151515" style="font-kerning:none">0</text>
<path d="M141.64 338.10v5" stroke="#1c1c1c" stroke-width="1.2" fill="none"/>
<path d="M141.64 388.00v-5" stroke="#1c1c1c" stroke-width="1.2" fill="none"/>
<text x="141.64" y="411.20" text-anchor="middle" font-family="Liberation Sans, Arial, Helvetica, sans-serif" font-size="20.3" fill="#151515" style="font-kerning:none">100</text>
<path d="M254.98 338.10v5" stroke="#1c1c1c" stroke-width="1.2" fill="none"/>
<path d="M254.98 388.00v-5" stroke="#1c1c1c" stroke-width="1.2" fill="none"/>
<text x="254.98" y="411.20" text-anchor="middle" font-family="Liberation Sans, Arial, Helvetica, sans-serif" font-size="20.3" fill="#151515" style="font-kerning:none">200</text>
<path d="M368.32 338.10v5" stroke="#1c1c1c" stroke-width="1.2" fill="none"/>
<path d="M368.32 388.00v-5" stroke="#1c1c1c" stroke-width="1.2" fill="none"/>
<text x="368.32" y="411.20" text-anchor="middle" font-family="Liberation Sans, Arial, Helvetica, sans-serif" font-size="20.3" fill="#151515" style="font-kerning:none">300</text>
<path d="M481.66 338.10v5" stroke="#1c1c1c" stroke-width="1.2" fill="none"/>
<path d="M481.66 388.00v-5" stroke="#1c1c1c" stroke-width="1.2" fill="none"/>
<text x="481.66" y="411.20" text-anchor="middle" font-family="Liberation Sans, Arial, Helvetica, sans-serif" font-size="20.3" fill="#151515" style="font-kerning:none">400</text>
<text x="595.00" y="411.20" text-anchor="middle" font-family="Liberation Sans, Arial, Helvetica, sans-serif" font-size="20.3" fill="#151515" style="font-kerning:none">500</text>
<rect x="28.30" y="338.10" width="566.70" height="49.90" fill="none" stroke="#1c1c1c" stroke-width="1.35"/>
<text transform="translate(17.30 363.05) rotate(-90)" text-anchor="middle" letter-spacing="0.8" font-family="Liberation Sans, Arial, Helvetica, sans-serif" font-size="20.3" fill="#151515" style="font-kerning:none">Tau</text>
</g>
<text x="311.7" y="432.4" text-anchor="middle" font-family="Liberation Sans, Arial, Helvetica, sans-serif" font-size="20.3" fill="#151515" style="font-kerning:none">Position</text>
<rect x="616.90" y="14.20" width="35.60" height="7.02" fill="#ffffff"/>
<rect x="616.90" y="20.02" width="35.60" height="7.02" fill="#fefefb"/>
<rect x="616.90" y="25.83" width="35.60" height="7.02" fill="#fcfcf7"/>
<rect x="616.90" y="31.65" width="35.60" height="7.02" fill="#fbfbf3"/>
<rect x="616.90" y="37.46" width="35.60" height="7.02" fill="#fafaee"/>
<rect x="616.90" y="43.28" width="35.60" height="7.02" fill="#f8f8ea"/>
<rect x="616.90" y="49.09" width="35.60" height="7.02" fill="#f7f7e5"/>
<rect x="616.90" y="54.91" width="35.60" height="7.02" fill="#f5f5e1"/>
<rect x="616.90" y="60.72" width="35.60" height="7.02" fill="#f4f4dc"/>
<rect x="616.90" y="66.54" width="35.60" height="7.02" fill="#f3f3d8"/>
<rect x="616.90" y="72.36" width="35.60" height="7.02" fill="#f1f1d3"/>
<rect x="616.90" y="78.17" width="35.60" height="7.02" fill="#f0f0ce"/>
<rect x="616.90" y="83.99" width="35.60" height="7.02" fill="#eeeec9"/>
<rect x="616.90" y="89.80" width="35.60" height="7.02" fill="#ededc3"/>
<rect x="616.90" y="95.62" width="35.60" height="7.02" fill="#ebebbe"/>
<rect x="616.90" y="101.43" width="35.60" height="7.02" fill="#eaeab9"/>
<rect x="616.90" y="107.25" width="35.60" height="7.02" fill="#e8e8b4"/>
<rect x="616.90" y="113.07" width="35.60" height="7.02" fill="#e7e4b2"/>
<rect x="616.90" y="118.88" width="35.60" height="7.02" fill="#e5e1b0"/>
<rect x="616.90" y="124.70" width="35.60" height="7.02" fill="#e4ddae"/>
<rect x="616.90" y="130.51" width="35.60" height="7.02" fill="#e2daac"/>
<rect x="616.90" y="136.33" width="35.60" height="7.02" fill="#e1d6aa"/>
<rect x="616.90" y="142.14" width="35.60" height="7.02" fill="#dfd2a8"/>
<rect x="616.90" y="147.96" width="35.60" height="7.02" fill="#decea6"/>
<rect x="616.90" y="153.77" width="35.60" height="7.02" fill="#dccaa4"/>
<rect x="616.90" y="159.59" width="35.60" height="7.02" fill="#dbc6a2"/>
<rect x="616.90" y="165.41" width="35.60" height="7.02" fill="#d9c2a0"/>
<rect x="616.90" y="171.22" width="35.60" height="7.02" fill="#d8be9d"/>
<rect x="616.90" y="177.04" width="35.60" height="7.02" fill="#d6ba9b"/>
<rect x="616.90" y="182.85" width="35.60" height="7.02" fill="#d4b599"/>
<rect x="616.90" y="188.67" width="35.60" height="7.02" fill="#d3b197"/>
<rect x="616.90" y="194.48" width="35.60" height="7.02" fill="#d1ac94"/>
<rect x="616.90" y="200.30" width="35.60" height="7.02" fill="#cfa892"/>
<rect x="616.90" y="206.12" width="35.60" height="7.02" fill="#cea390"/>
<rect x="616.90" y="211.93" width="35.60" height="7.02" fill="#cc9e8d"/>
<rect x="616.90" y="217.75" width="35.60" height="7.02" fill="#ca998b"/>
<rect x="616.90" y="223.56" width="35.60" height="7.02" fill="#c99388"/>
<rect x="616.90" y="229.38" width="35.60" height="7.02" fill="#c78e86"/>
<rect x="616.90" y="235.19" width="35.60" height="7.02" fill="#c58883"/>
<rect x="616.90" y="241.01" width="35.60" height="7.02" fill="#c38281"/>
<rect x="616.90" y="246.82" width="35.60" height="7.02" fill="#c07e7e"/>
<rect x="616.90" y="252.64" width="35.60" height="7.02" fill="#bc7b7b"/>
<rect x="616.90" y="258.46" width="35.60" height="7.02" fill="#b87878"/>
<rect x="616.90" y="264.27" width="35.60" height="7.02" fill="#b37575"/>
<rect x="616.90" y="270.09" width="35.60" height="7.02" fill="#af7272"/>
<rect x="616.90" y="275.90" width="35.60" height="7.02" fill="#aa6f6f"/>
<rect x="616.90" y="281.72" width="35.60" height="7.02" fill="#a56c6c"/>
<rect x="616.90" y="287.53" width="35.60" height="7.02" fill="#a06969"/>
<rect x="616.90" y="293.35" width="35.60" height="7.02" fill="#9b6666"/>
<rect x="616.90" y="299.17" width="35.60" height="7.02" fill="#966262"/>
<rect x="616.90" y="304.98" width="35.60" height="7.02" fill="#905f5f"/>
<rect x="616.90" y="310.80" width="35.60" height="7.02" fill="#8b5b5b"/>
<rect x="616.90" y="316.61" width="35.60" height="7.02" fill="#855757"/>
<rect x="616.90" y="322.43" width="35.60" height="7.02" fill="#7f5353"/>
<rect x="616.90" y="328.24" width="35.60" height="7.02" fill="#784f4f"/>
<rect x="616.90" y="334.06" width="35.60" height="7.02" fill="#714a4a"/>
<rect x="616.90" y="339.88" width="35.60" height="7.02" fill="#6a4545"/>
<rect x="616.90" y="345.69" width="35.60" height="7.02" fill="#624040"/>
<rect x="616.90" y="351.51" width="35.60" height="7.02" fill="#5a3b3b"/>
<rect x="616.90" y="357.32" width="35.60" height="7.02" fill="#503434"/>
<rect x="616.90" y="363.14" width="35.60" height="7.02" fill="#452d2d"/>
<rect x="616.90" y="368.95" width="35.60" height="7.02" fill="#392525"/>
<rect x="616.90" y="374.77" width="35.60" height="7.02" fill="#281a1a"/>
<rect x="616.90" y="380.58" width="35.60" height="5.82" fill="#30100f"/>
<path d="M616.90 48.90h3M652.50 48.90h-3" stroke="#1c1c1c" stroke-width="1.2" fill="none"/>
<text x="656.6" y="56.50" font-family="Liberation Sans, Arial, Helvetica, sans-serif" font-size="20.3" fill="#151515" style="font-kerning:none">0.1</text>
<path d="M616.90 86.83h3M652.50 86.83h-3" stroke="#1c1c1c" stroke-width="1.2" fill="none"/>
<text x="656.6" y="94.43" font-family="Liberation Sans, Arial, Helvetica, sans-serif" font-size="20.3" fill="#151515" style="font-kerning:none">0.2</text>
<path d="M616.90 124.76h3M652.50 124.76h-3" stroke="#1c1c1c" stroke-width="1.2" fill="none"/>
<text x="656.6" y="132.36" font-family="Liberation Sans, Arial, Helvetica, sans-serif" font-size="20.3" fill="#151515" style="font-kerning:none">0.3</text>
<path d="M616.90 162.69h3M652.50 162.69h-3" stroke="#1c1c1c" stroke-width="1.2" fill="none"/>
<text x="656.6" y="170.29" font-family="Liberation Sans, Arial, Helvetica, sans-serif" font-size="20.3" fill="#151515" style="font-kerning:none">0.4</text>
<path d="M616.90 200.62h3M652.50 200.62h-3" stroke="#1c1c1c" stroke-width="1.2" fill="none"/>
<text x="656.6" y="208.22" font-family="Liberation Sans, Arial, Helvetica, sans-serif" font-size="20.3" fill="#151515" style="font-kerning:none">0.5</text>
<path d="M616.90 238.55h3M652.50 238.55h-3" stroke="#1c1c1c" stroke-width="1.2" fill="none"/>
<text x="656.6" y="246.15" font-family="Liberation Sans, Arial, Helvetica, sans-serif" font-size="20.3" fill="#151515" style="font-kerning:none">0.6</text>
<path d="M616.90 276.48h3M652.50 276.48h-3" stroke="#1c1c1c" stroke-width="1.2" fill="none"/>
<text x="656.6" y="284.08" font-family="Liberation Sans, Arial, Helvetica, sans-serif" font-size="20.3" fill="#151515" style="font-kerning:none">0.7</text>
<path d="M616.90 314.41h3M652.50 314.41h-3" stroke="#1c1c1c" stroke-width="1.2" fill="none"/>
<text x="656.6" y="322.01" font-family="Liberation Sans, Arial, Helvetica, sans-serif" font-size="20.3" fill="#151515" style="font-kerning:none">0.8</text>
<path d="M616.90 352.34h3M652.50 352.34h-3" stroke="#1c1c1c" stroke-width="1.2" fill="none"/>
<text x="656.6" y="359.94" font-family="Liberation Sans, Arial, Helvetica, sans-serif" font-size="20.3" fill="#151515" style="font-kerning:none">0.9</text>
<rect x="616.90" y="14.20" width="35.60" height="372.20" fill="none" stroke="#1c1c1c" stroke-width="1.35"/>
</svg>
</body></html>
